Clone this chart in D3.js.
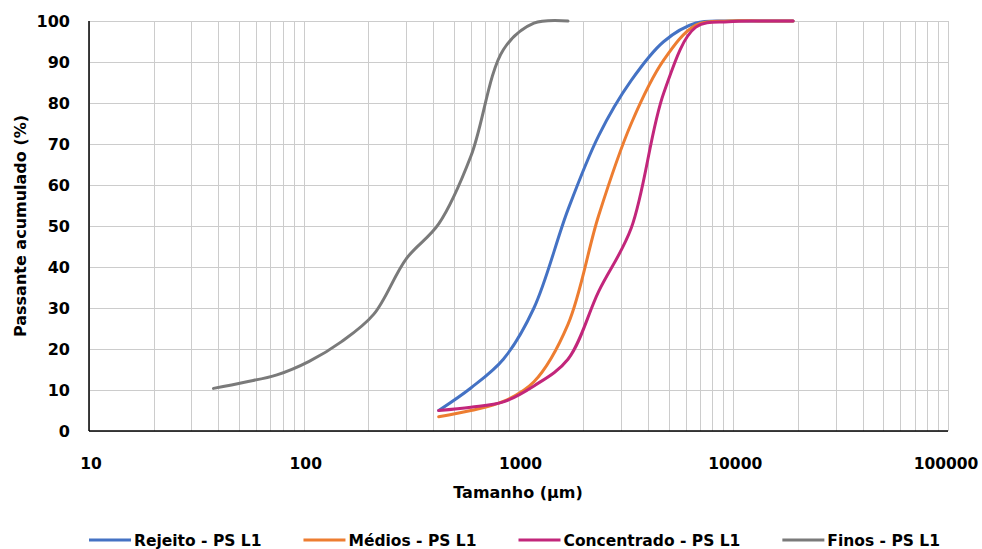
<!DOCTYPE html>
<html>
<head>
<meta charset="utf-8">
<script src="https://cdn.jsdelivr.net/npm/d3@7"></script>
<style>
  body { margin: 0; background: #fff; }
  text { font-family: "DejaVu Sans", sans-serif; font-weight: bold; fill: #000; }
</style>
</head>
<body>
<svg id="chart" width="982" height="549"></svg>
<script>
// sieve sizes (µm) and cumulative passing (%)
const sizesFinos = [38, 53, 75, 106, 150, 212, 300, 425, 600, 850, 1180, 1700];
const finos = [10.4, 11.9, 13.7, 17, 21.8, 28.5, 42, 50.5, 67, 93, 99.5, 100];

const sizes = [425, 600, 850, 1180, 1700, 2360, 3350, 4750, 6700, 9500, 13200, 19000];
const rejeito = [5, 10.5, 17.5, 30, 54, 72, 85.5, 95, 99.5, 100, 100, 100];
const medios = [3.5, 5, 7.2, 12, 26, 52.5, 75, 90.5, 99, 100, 100, 100];
const concentrado = [5, 5.8, 7.1, 11, 17.5, 34, 49.5, 82.5, 98.5, 99.8, 100, 100];

const xTicks = [10, 100, 1000, 10000, 100000];
const yTicks = [0, 10, 20, 30, 40, 50, 60, 70, 80, 90, 100];

const seriesList = [
  { name: "Rejeito - PS L1", x: sizes, y: rejeito, color: "#4472C4" },
  { name: "Médios - PS L1", x: sizes, y: medios, color: "#ED7D31" },
  { name: "Concentrado - PS L1", x: sizes, y: concentrado, color: "#C2267B" },
  { name: "Finos - PS L1", x: sizesFinos, y: finos, color: "#7A7A7A" }
];

const svg = d3.select("#chart");
const margin = { left: 89, right: 34, top: 21, bottom: 118 };
const width = 982, height = 549;

const x = d3.scaleLog().domain([10, 100000]).range([margin.left, width - margin.right]);
const y = d3.scaleLinear().domain([0, 100]).range([height - margin.bottom, margin.top]);

// minor + major vertical grid
const vGrid = [];
for (let d = 10; d < 100000; d *= 10) {
  for (let k = 1; k < 10; k++) vGrid.push(d * k);
}
vGrid.push(100000);

svg.append("g")
  .selectAll("line")
  .data(vGrid)
  .join("line")
  .attr("x1", d => Math.round(x(d)) + 0.5)
  .attr("x2", d => Math.round(x(d)) + 0.5)
  .attr("y1", y(0))
  .attr("y2", y(100))
  .attr("stroke", "#cccccc")
  .attr("stroke-width", 1);

svg.append("g")
  .selectAll("line")
  .data(yTicks)
  .join("line")
  .attr("x1", x(10))
  .attr("x2", x(100000))
  .attr("y1", d => Math.round(y(d)) + 0.5)
  .attr("y2", d => Math.round(y(d)) + 0.5)
  .attr("stroke", "#cccccc")
  .attr("stroke-width", 1);

// axis lines
svg.append("line")
  .attr("x1", x(10)).attr("x2", x(10))
  .attr("y1", y(0)).attr("y2", y(100))
  .attr("stroke", "#000").attr("stroke-width", 1.5);
svg.append("line")
  .attr("x1", x(10)).attr("x2", x(100000))
  .attr("y1", y(0)).attr("y2", y(0))
  .attr("stroke", "#000").attr("stroke-width", 1.5);

// tick labels
svg.append("g")
  .selectAll("text")
  .data(yTicks)
  .join("text")
  .attr("x", 70)
  .attr("y", d => y(d))
  .attr("dy", "0.36em")
  .attr("text-anchor", "end")
  .style("font-size", "16px")
  .text(d => d);

svg.append("g")
  .selectAll("text")
  .data(xTicks)
  .join("text")
  .attr("x", d => x(d) + (d === 100000 ? -2 : 2))
  .attr("y", 463)
  .attr("dy", "0.36em")
  .attr("text-anchor", "middle")
  .style("font-size", "15.5px")
  .text(d => d);

// axis titles
svg.append("text")
  .attr("x", 518)
  .attr("y", 492)
  .attr("dy", "0.36em")
  .attr("text-anchor", "middle")
  .style("font-size", "16px")
  .text("Tamanho (µm)");

svg.append("text")
  .attr("transform", "translate(20, 226) rotate(-90)")
  .attr("dy", "0.36em")
  .attr("text-anchor", "middle")
  .style("font-size", "16px")
  .text("Passante acumulado (%)");

// curves
const line = d3.line()
  .x(d => x(d[0]))
  .y(d => y(d[1]))
  .curve(d3.curveCatmullRom);

svg.append("g")
  .selectAll("path")
  .data(seriesList)
  .join("path")
  .attr("d", s => line(s.x.map((v, i) => [v, s.y[i]])))
  .attr("fill", "none")
  .attr("stroke", s => s.color)
  .attr("stroke-width", 3)
  .attr("stroke-linejoin", "round")
  .attr("stroke-linecap", "round");

// legend
const legend = svg.append("g");
const items = legend.selectAll("g")
  .data(seriesList)
  .join("g");
items.append("line")
  .attr("x1", 0).attr("x2", 42)
  .attr("y1", 0).attr("y2", 0)
  .attr("stroke", s => s.color)
  .attr("stroke-width", 3);
items.append("text")
  .attr("x", 45)
  .attr("dy", "0.36em")
  .style("font-size", "15.5px")
  .text(s => s.name);

const gap = 42;
let widths = [];
items.each(function () {
  widths.push(45 + d3.select(this).select("text").node().getComputedTextLength());
});
const total = d3.sum(widths) + gap * (widths.length - 1);
let cx = 514.5 - total / 2;
items.attr("transform", (s, i) => {
  const t = `translate(${cx}, 540)`;
  cx += widths[i] + gap;
  return t;
});
</script>
</body>
</html>
